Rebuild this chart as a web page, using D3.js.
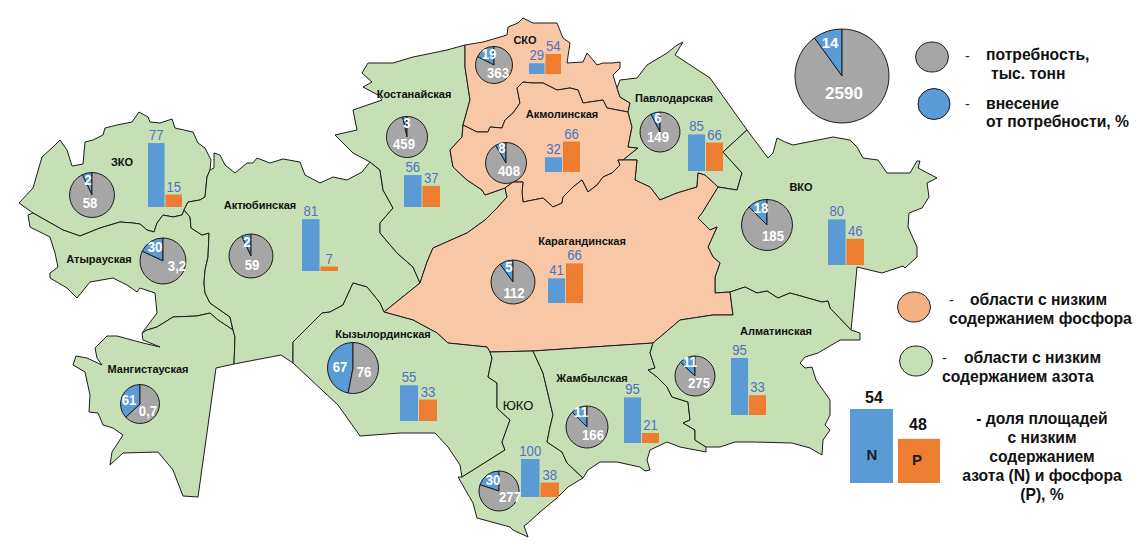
<!DOCTYPE html>
<html>
<head>
<meta charset="utf-8">
<script src="https://cdn.jsdelivr.net/npm/d3@7"></script>
<style>
html, body { margin: 0; padding: 0; background: #fff; }
svg { display: block; }
text { font-family: "Liberation Sans", Arial, sans-serif; }
</style>
</head>
<body>
<svg id="chart" width="1148" height="558"></svg>
<script>
// values
var regions = ['ЗКО', 'Атырауская', 'Актюбинская', 'Костанайская', 'СКО', 'Акмолинская', 'Павлодарская',
    'ВКО', 'Карагандинская', 'Кызылординская', 'Мангистауская', 'ЮКО', 'Жамбылская', 'Алматинская'];
var needLabels = ['58', '3,2', '59', '459', '363', '408', '149', '185', '112', '76', '0,7', '277', '166', '275'];
var appliedPct = [2, 30, 2, 3, 19, 8, 6, 18, 5, 67, 61, 30, 11, 11];
// the wedges in the picture are not drawn to their labels, so their size is read separately
var wedgePct = [7, 18, 7, 3.5, 17.5, 8.5, 7.5, 12.5, 10, 47, 37, 20, 12.5, 13];
var nitrogen = [77, null, 81, 56, 29, 32, 85, 80, 41, 55, null, 100, 95, 95];
var phosphorus = [15, null, 7, 37, 54, 66, 66, 46, 66, 33, null, 38, 21, 33];
var totalNeed = '2590', totalApplied = 14, totalWedge = 10;
var legendN = 54, legendP = 48;

// region outlines, traced in page pixels
var outlines = {
    'ЗКО': [[19,203],[33,188],[42,157],[53,147],[60,140],[67,150],[72,166],[83,164],[85,142],[93,140],[103,135],[105,128],[117,125],[132,122],[139,112],[148,117],[150,122],[160,123],[172,119],[175,128],[193,132],[198,143],[205,148],[211,160],[210,170],[207,177],[205,197],[200,200],[188,202],[184,210],[182,215],[173,217],[163,215],[157,223],[154,232],[147,230],[140,224],[133,223],[120,222],[100,228],[80,236],[63,230],[33,213]],
    'Атырауская': [[28,215],[33,213],[63,230],[80,236],[100,228],[120,222],[133,223],[140,224],[147,230],[154,232],[157,223],[163,215],[173,217],[182,215],[184,210],[190,217],[191,228],[202,235],[209,233],[208,257],[205,270],[204,283],[205,293],[210,303],[230,317],[233,330],[218,320],[210,313],[197,316],[173,317],[157,327],[147,330],[142,333],[157,313],[155,293],[140,288],[137,292],[127,285],[113,278],[90,282],[77,298],[67,288],[50,278],[50,273],[58,267],[55,253],[50,237],[30,227]],
    'Мангистауская': [[147,330],[142,333],[143,340],[160,347],[143,343],[117,336],[107,336],[95,348],[97,358],[102,365],[87,358],[76,356],[73,365],[85,372],[90,395],[89,412],[98,413],[103,425],[113,428],[123,435],[112,452],[110,465],[123,453],[158,452],[173,470],[183,496],[198,497],[216,368],[234,364],[235,337],[233,330],[218,320],[210,313],[197,316],[173,317],[157,327]],
    'Актюбинская': [[214,153],[220,155],[225,165],[235,173],[247,163],[253,163],[257,158],[270,163],[283,159],[300,162],[305,175],[320,183],[333,177],[347,180],[362,172],[370,162],[380,170],[383,190],[393,208],[380,223],[380,233],[397,253],[413,267],[420,283],[384,312],[380,303],[367,287],[353,283],[343,305],[330,312],[322,313],[293,342],[293,363],[281,355],[234,364],[235,337],[233,330],[230,317],[210,303],[205,293],[204,283],[205,270],[208,257],[209,233],[202,235],[191,228],[190,217],[184,210],[188,202],[200,200],[205,197],[207,177],[210,170],[214,168]],
    'Костанайская': [[368,63],[393,63],[413,57],[447,50],[465,45],[465,67],[470,100],[463,125],[462,137],[450,150],[453,167],[467,180],[482,190],[485,195],[505,188],[507,197],[497,208],[485,220],[467,233],[433,248],[427,262],[420,283],[413,267],[397,253],[380,233],[380,223],[393,208],[383,190],[380,170],[370,162],[353,153],[347,147],[335,135],[357,130],[353,110],[382,100],[378,95],[363,87],[372,82],[362,73]],
    'СКО': [[465,45],[483,42],[507,35],[508,27],[518,23],[523,18],[533,23],[557,23],[563,38],[570,43],[567,63],[583,62],[587,53],[593,60],[597,65],[603,63],[612,63],[620,62],[620,68],[613,75],[617,88],[620,97],[630,103],[628,112],[607,108],[603,100],[583,103],[578,90],[570,88],[557,90],[543,83],[532,83],[523,82],[517,88],[520,103],[513,113],[505,120],[502,128],[490,127],[488,132],[477,132],[463,125],[470,100],[465,67]],
    'Акмолинская': [[463,125],[477,132],[488,132],[490,127],[502,128],[505,120],[513,113],[520,103],[517,88],[523,82],[532,83],[543,83],[557,90],[570,88],[578,90],[583,103],[603,100],[607,108],[628,112],[632,127],[628,147],[638,148],[623,160],[618,160],[620,165],[612,173],[603,177],[597,185],[588,192],[582,180],[573,187],[563,197],[562,203],[553,207],[543,198],[523,202],[522,192],[523,182],[513,182],[505,188],[485,195],[482,190],[467,180],[453,167],[450,150],[462,137]],
    'Павлодарская': [[620,80],[637,78],[647,65],[667,53],[677,45],[683,42],[675,55],[710,78],[747,130],[723,152],[733,163],[742,173],[737,190],[718,187],[705,175],[698,173],[697,187],[677,193],[660,200],[650,187],[635,180],[637,160],[623,160],[638,148],[628,147],[632,127],[628,112],[630,103],[620,97],[617,88]],
    'ВКО': [[747,130],[768,158],[773,153],[777,138],[785,142],[793,145],[833,137],[850,140],[857,147],[863,158],[878,160],[887,173],[910,173],[917,161],[920,161],[918,168],[937,178],[927,183],[929,197],[922,208],[909,213],[908,227],[917,247],[917,257],[905,268],[903,266],[882,273],[857,267],[854,300],[851,330],[830,308],[828,301],[822,302],[790,293],[778,298],[767,291],[757,293],[745,287],[730,292],[715,293],[715,277],[720,263],[713,257],[708,247],[717,227],[710,230],[698,218],[702,213],[718,187],[737,190],[742,173],[733,163],[723,152]],
    'Карагандинская': [[505,188],[513,182],[523,182],[522,192],[523,202],[543,198],[553,207],[562,203],[563,197],[573,187],[582,180],[588,192],[597,185],[603,177],[612,173],[620,165],[618,160],[623,160],[637,160],[635,180],[650,187],[660,200],[677,193],[697,187],[698,173],[705,175],[718,187],[702,213],[698,218],[710,230],[717,227],[708,247],[713,257],[720,263],[715,277],[715,293],[730,292],[733,315],[713,315],[680,320],[653,343],[533,351],[490,352],[487,347],[448,343],[437,333],[413,320],[384,312],[420,283],[427,262],[433,248],[467,233],[485,220],[497,208],[507,197]],
    'Кызылординская': [[293,342],[322,313],[330,312],[343,305],[353,283],[367,287],[380,303],[384,312],[413,320],[437,333],[448,343],[487,347],[490,352],[492,358],[488,377],[497,383],[497,408],[510,420],[502,442],[505,450],[462,477],[460,465],[448,447],[435,433],[400,433],[360,436],[338,405],[293,363]],
    'ЮКО': [[490,352],[533,351],[543,373],[553,415],[550,427],[547,442],[562,452],[567,463],[583,478],[568,487],[557,498],[540,512],[528,523],[524,526],[528,537],[513,530],[510,527],[477,518],[473,503],[458,477],[462,477],[505,450],[502,442],[510,420],[497,408],[497,383],[488,377],[492,358]],
    'Жамбылская': [[533,351],[653,343],[650,353],[655,368],[648,370],[657,377],[667,387],[672,397],[688,402],[690,420],[683,423],[695,430],[695,440],[706,447],[706,452],[680,447],[667,442],[650,450],[647,460],[650,470],[645,471],[640,467],[617,462],[600,462],[588,470],[583,478],[567,463],[562,452],[547,442],[550,427],[553,415],[543,373]],
    'Алматинская': [[733,315],[730,292],[745,287],[757,293],[767,291],[778,298],[790,293],[822,302],[828,301],[830,308],[851,330],[860,333],[860,340],[840,340],[818,353],[805,357],[800,363],[805,368],[812,367],[816,380],[830,400],[830,415],[825,425],[830,430],[823,440],[822,455],[810,448],[792,443],[753,442],[735,442],[720,447],[706,447],[695,440],[695,430],[683,423],[690,420],[688,402],[672,397],[667,387],[657,377],[648,370],[655,368],[650,353],[653,343],[680,320],[713,315]]
};
var lowPhosphorus = ['СКО', 'Акмолинская', 'Карагандинская'];

// where things sit on the map, one row per region
var pieSpots = [[92,195,22.5],[163,261,23],[251,256,22],[407,137,20.5],[494,65,18.5],[506,163,20.5],[660,132,20],
    [767,225,25.5],[513,282,22],[353,368,25.5],[140,404,19.5],[499,491,20],[587,427,21],[695,376,20]];
var appliedSpots = [[88,185],[155,252],[247,247],[407,128],[489,59],[502,153],[658,123],
    [761,213],[509,272],[340,372],[129,405],[493,485],[581,417],[690,367]];
var needSpots = [[90,208],[177,271],[252,270],[404,149],[498,78],[509,176],[658,142],
    [773,241],[514,298],[364,377],[148,416],[510,502],[593,440],[699,388]];
var nameSpots = [[122,166],[99,263],[260,209],[414,98],[525,44],[562,118],[674,102],
    [801,191],[582,245],[383,338],[148,373],[518,410],[592,382],[776,335]];
// bars: left, right, baseline, height a full 100 would have
var barSpots = [[148,182,207,83],null,[302,338,271,64],[404,440,207,57],[529,561,74,37],[545,580,172,46],[688,723,171,43],
    [828,864,265,57],[548,583,303,60],[400,437,421,65],null,[521,559,497,38],[624,659,443,48],[731,766,415,60]];

var svg = d3.select('#chart');
var color = { grey: '#a6a6a6', blue: '#5b9bd5', orange: '#ed7d31', green: '#c6dfb4', peach: '#f8c8a6', label: '#4f72c4' };

// map
var outline = d3.line().curve(d3.curveLinearClosed);
svg.append('g').selectAll('path')
    .data(Object.keys(outlines))
    .enter().append('path')
    .attr('d', function(d) { return outline(outlines[d]); })
    .style('fill', function(d) { return lowPhosphorus.indexOf(d) >= 0 ? color.peach : color.green; })
    .style('stroke', '#1c1c1c')
    .style('stroke-width', 1)
    .style('stroke-linejoin', 'round');

function drawPie(x, y, r, wedge) {
    var start = -wedge / 100 * 2 * Math.PI;
    var pie = d3.pie().sort(null).startAngle(start).endAngle(start + 2 * Math.PI);
    var arc = d3.arc().innerRadius(0).outerRadius(r);
    svg.append('g')
        .attr('transform', 'translate(' + x + ',' + y + ')')
        .selectAll('path')
        .data(pie([wedge, 100 - wedge]))
        .enter().append('path')
        .attr('d', arc)
        .style('fill', function(d, i) { return i === 0 ? color.blue : color.grey; })
        .style('stroke', '#1c1c1c')
        .style('stroke-width', 1);
}

function addText(str, x, y, size, fill, bold, anchor) {
    return svg.append('text')
        .attr('x', x)
        .attr('y', y)
        .attr('text-anchor', anchor || 'middle')
        .style('font-size', size + 'px')
        .style('font-weight', bold ? 'bold' : 'normal')
        .style('fill', fill)
        .text(str);
}

// the small numbers in the picture are tall and squeezed
function addTallText(str, x, y, size, fill, bold) {
    return addText(str, 0, 0, size, fill, bold)
        .attr('transform', 'translate(' + x + ',' + y + ') scale(0.85,1)');
}

function drawBars(spot, n, p) {
    var x = d3.scaleBand().domain(['N', 'P']).range([spot[0], spot[1]]).paddingInner(0.05);
    var h = d3.scaleLinear().domain([0, 100]).range([0, spot[3]]);
    [['N', n, color.blue], ['P', p, color.orange]].forEach(function(b) {
        svg.append('rect')
            .attr('x', x(b[0]))
            .attr('y', spot[2] - h(b[1]))
            .attr('width', x.bandwidth())
            .attr('height', h(b[1]))
            .style('fill', b[2]);
        addTallText(b[1], x(b[0]) + x.bandwidth() / 2, spot[2] - h(b[1]) - 3, 15.5, color.label, false);
    });
}

regions.forEach(function(name, i) {
    var s = pieSpots[i];
    drawPie(s[0], s[1], s[2], wedgePct[i]);
    addTallText(appliedPct[i], appliedSpots[i][0], appliedSpots[i][1], 15.5, '#fff', true);
    addTallText(needLabels[i], needSpots[i][0], needSpots[i][1], 15.5, '#fff', true);
    if (barSpots[i]) {
        drawBars(barSpots[i], nitrogen[i], phosphorus[i]);
    }
    if (name === 'ЮКО') {
        addText(name, nameSpots[i][0], nameSpots[i][1], 13, '#111', false);
    } else {
        addText(name, nameSpots[i][0], nameSpots[i][1], 11, '#111', true);
    }
});

// legend, top right
drawPie(842, 76, 47, totalWedge);
addText(totalApplied, 830, 48, 15, '#fff', true);
addText(totalNeed, 844, 99, 17, '#fff', true);

function legendDot(x, y, rx, ry, fill) {
    svg.append('ellipse')
        .attr('cx', x).attr('cy', y).attr('rx', rx).attr('ry', ry)
        .style('fill', fill)
        .style('stroke', '#1c1c1c')
        .style('stroke-width', 1);
}
legendDot(932, 57, 16.5, 15, color.grey);
legendDot(934, 104, 16, 15.5, color.blue);
legendDot(914, 307, 16.5, 15, '#f4b183');
legendDot(916, 361, 16.5, 15, color.green);

var legendDashes = [[965, 61], [965, 109], [949, 305], [942, 363]];
legendDashes.forEach(function(d) {
    addText('-', d[0], d[1], 14, '#222', false, 'start');
});
var legendLines = [
    ['потребность,', 986, 60], ['тыс. тонн', 991, 79],
    ['внесение', 986, 109], ['от потребности, %', 986, 127],
    ['области с низким', 970, 305], ['содержанием фосфора', 949, 324],
    ['области с низким', 964, 363], ['содержанием азота', 942, 382]
];
legendLines.forEach(function(l) {
    addText(l[0], l[1], l[2], 15.7, '#111', true, 'start');
});

// N and P sample bars
var sampleN = d3.scaleLinear().domain([0, 100]).range([0, 137]);
var sampleP = d3.scaleLinear().domain([0, 100]).range([0, 92]);
svg.append('rect').attr('x', 850).attr('y', 483 - sampleN(legendN))
    .attr('width', 43).attr('height', sampleN(legendN)).style('fill', color.blue);
svg.append('rect').attr('x', 898).attr('y', 483 - sampleP(legendP))
    .attr('width', 42).attr('height', sampleP(legendP)).style('fill', color.orange);
addText(legendN, 874, 403, 16, '#111', true);
addText(legendP, 918, 430, 16, '#111', true);
addText('N', 872, 460, 15, '#1a1a2a', true);
addText('P', 917, 465, 15, '#1a1a2a', true);

var shareLines = ['- доля площадей', 'с низким', 'содержанием', 'азота (N) и фосфора', '(P), %'];
shareLines.forEach(function(l, i) {
    addText(l, 1042, [424, 443, 462, 481, 500][i], 15.7, '#111', true);
});
</script>
</body>
</html>
